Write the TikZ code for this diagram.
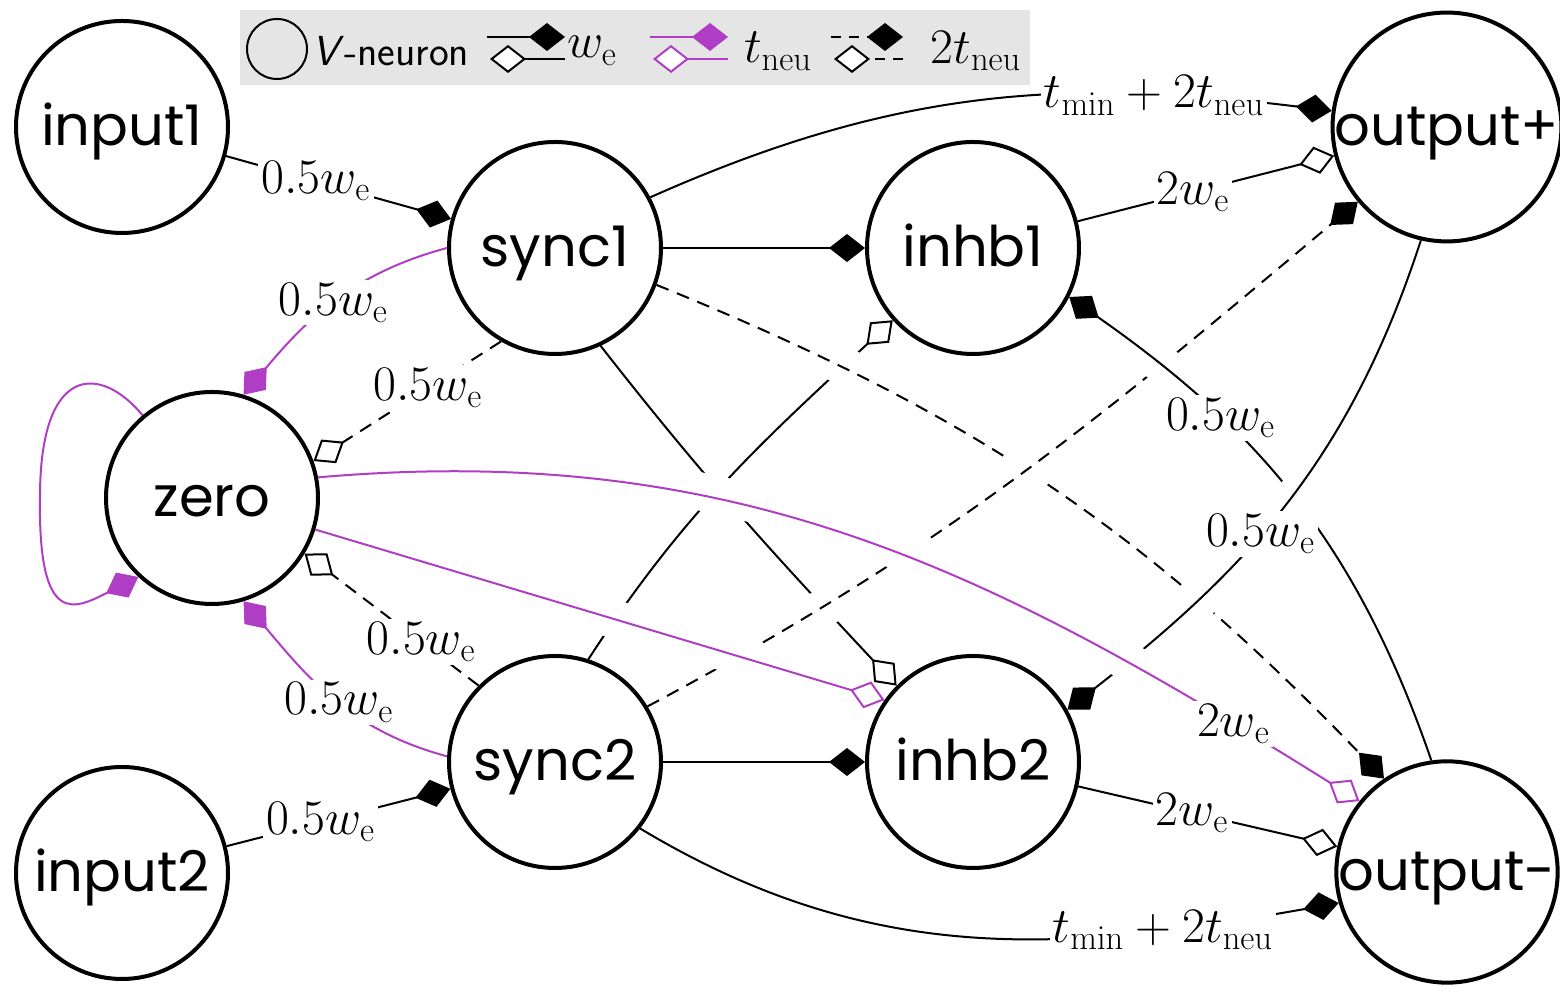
\documentclass[tikz,border=0pt]{standalone}
\usepackage[no-math]{fontspec}
\newfontfamily\nodefont{Poppins}
\usetikzlibrary{arrows.meta}
\definecolor{tpurple}{RGB}{176,62,196}
\pgfdeclarelayer{edges}
\pgfsetlayers{edges,main}
\begin{document}
\begin{tikzpicture}[x=0.5pt,y=0.5pt,
  neuron/.style={circle, draw, line width=2pt, fill=white, minimum size=106pt, inner sep=0pt,
    text height=21pt, text depth=2pt, font=\nodefont\fontsize{28}{30}\selectfont},
  lbl/.style={fill=white, text=black, inner sep=1.5pt, font=\fontsize{24}{28}\selectfont},
  edge/.style={line width=1pt},
  exc/.style={-{Diamond[length=18pt,width=14pt]}},
  inh/.style={-{Diamond[open,fill=white,length=18pt,width=14pt]}},
  tneu/.style={draw=tpurple},
  dly/.style={dash pattern=on 6.5pt off 4.5pt},
  ldly/.style={dash pattern=on 5pt off 4pt},
  xo/.style={preaction={draw=white, solid, line width=19pt, -, shorten <=20pt, shorten >=20pt}},
]
\useasboundingbox (0,0) rectangle (1560,1004);
% neurons
\node[neuron] (input1) at (122,877) {input1};
\node[neuron] (sync1) at (555,756) {sync1};
\node[neuron] (inhb1) at (973,756) {inhb1};
\node[neuron] (outp) at (1447,877) {output+};
\node[neuron] (zero) at (212,506) {zero};
\node[neuron] (sync2) at (555,242) {sync2};
\node[neuron] (inhb2) at (973,242) {inhb2};
\node[neuron] (input2) at (122,131) {input2};
\node[neuron] (outm) at (1447,132) {output-};

\begin{pgfonlayer}{edges}
% plain synapses
\draw[edge,exc] (input1) -- node[lbl,pos=0.4]{$0.5w_{\mathrm{e}}$} (sync1);
\draw[edge,exc] (input2) -- node[lbl,pos=0.42]{$0.5w_{\mathrm{e}}$} (sync2);
\draw[edge,exc] (sync1) -- (inhb1);
\draw[edge,exc] (sync2) -- (inhb2);
\draw[edge,inh] (inhb1) -- node[lbl,pos=0.45]{$2w_{\mathrm{e}}$} (outp);
\draw[edge,inh] (inhb2) -- node[lbl,pos=0.44]{$2w_{\mathrm{e}}$} (outm);
\draw[edge,exc] (sync1.28) to[out=24,in=173] node[lbl,pos=0.76]{$t_{\min}+2t_{\mathrm{neu}}$} (outp.172);
\draw[edge,exc] (sync2.-38) to[out=-31,in=190] node[lbl,pos=0.77]{$t_{\min}+2t_{\mathrm{neu}}$} (outm.196);
% t_neu synapses to zero
\draw[edge,tneu,exc] (sync1.180) to[out=195,in=50] node[lbl,pos=0.5]{$0.5w_{\mathrm{e}}$} (zero.73);
\draw[edge,tneu,exc] (sync2.177) to[out=165,in=-50] node[lbl,pos=0.47]{$0.5w_{\mathrm{e}}$} (zero.-73);
\draw[edge,tneu,exc] (zero.130) .. controls (100,640) and (40,640) .. (40,507)
   .. controls (38,375) and (75,395) .. (zero.227);
% 2 t_neu to zero
\draw[edge,dly,inh] (sync1.240) -- node[lbl,pos=0.39]{$0.5w_{\mathrm{e}}$} (zero.20);
\draw[edge,dly,inh] (sync2.135) -- node[lbl,pos=0.33]{$0.5w_{\mathrm{e}}$} (zero.-31);
% crossing synapses
\draw[edge,xo,inh] (sync1.-65) to[out=-52,in=133] (inhb2.135);
\draw[edge,xo,inh] (sync2.72) to[out=57,in=223] (inhb1.222);
\draw[edge,xo,dly,exc] (sync1.-20) to[out=-22,in=134] (outm.124);
\draw[edge,xo,dly,exc] (sync2.31) to[out=28,in=220] (outp.220);
\draw[edge,xo,exc] (outm.98) to[out=109,in=-35] node[lbl,pos=0.69]{$0.5w_{\mathrm{e}}$} (inhb1.-27);
\draw[edge,xo,exc] (outp.-103) to[out=-108,in=38] node[lbl,pos=0.57]{$0.5w_{\mathrm{e}}$} (inhb2.29);
\draw[edge,xo,tneu,inh] (zero.-17) -- (inhb2.145);
\draw[edge,xo,tneu,inh] (zero.11) to[out=5,in=148] node[lbl,pos=0.88]{$2w_{\mathrm{e}}$} (outm.141);
\end{pgfonlayer}

% legend
\node[fill=gray!20, minimum width=395pt, minimum height=37.5pt, inner sep=0pt] (legend) at (635,956.5) {};
\node[circle, draw, line width=1pt, minimum size=30pt, inner sep=0pt] (lgc) at (277,955) {};
\node[anchor=west, font=\sffamily\fontsize{21}{24}\selectfont, inner sep=0pt] (lgt) at (312,953) {\textit{V}-neuron};
\coordinate (a1) at (487,967); \coordinate (a2) at (565,967);
\coordinate (b1) at (565,945); \coordinate (b2) at (490,945);
\draw[edge,exc] (a1) -- (a2);
\draw[edge,inh] (b1) -- (b2);
\node[lbl,fill=none] (lw) at (592,953) {$w_{\mathrm{e}}$};
\coordinate (c1) at (650,967); \coordinate (c2) at (728,967);
\coordinate (d1) at (728,945); \coordinate (d2) at (653,945);
\draw[edge,tneu,exc] (c1) -- (c2);
\draw[edge,tneu,inh] (d1) -- (d2);
\node[lbl,fill=none] (lt) at (778,953) {$t_{\mathrm{neu}}$};
\coordinate (e1) at (831,967); \coordinate (e2) at (903,967);
\coordinate (f1) at (903,945); \coordinate (f2) at (834,945);
\draw[edge,ldly,exc] (e1) -- (e2);
\draw[edge,ldly,inh] (f1) -- (f2);
\node[lbl,fill=none] (l2t) at (976,953) {$2t_{\mathrm{neu}}$};
\end{tikzpicture}
\end{document}
